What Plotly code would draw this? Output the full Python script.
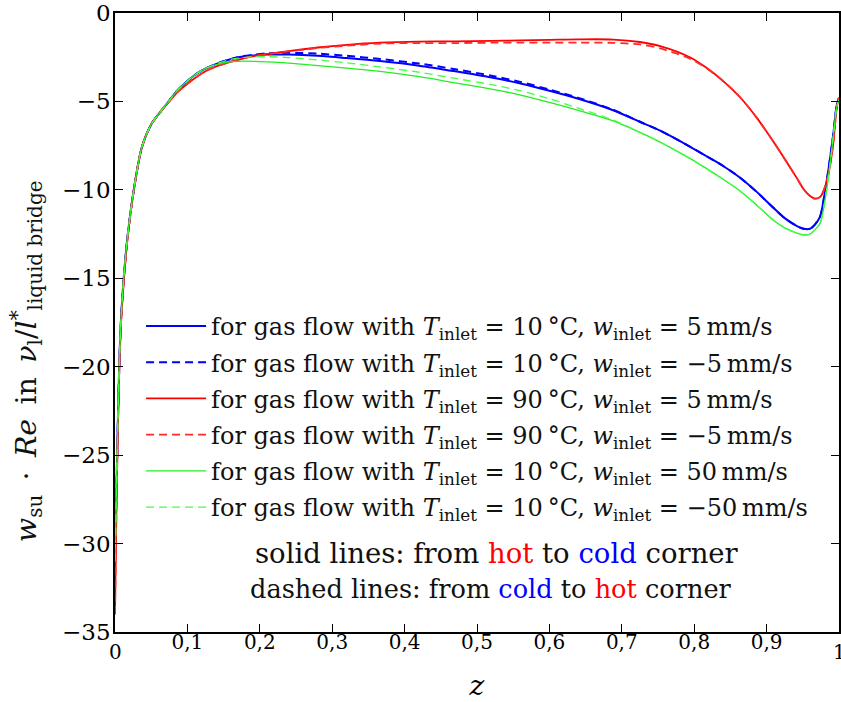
import plotly.graph_objects as go

z = [0, 0.002, 0.004, 0.006, 0.008, 0.012, 0.018, 0.026, 0.037, 0.05, 0.0625, 0.075,
     0.0856, 0.1, 0.113, 0.127, 0.141, 0.156, 0.171, 0.19, 0.21, 0.24, 0.28, 0.32,
     0.366, 0.42, 0.47, 0.52, 0.56, 0.6, 0.64, 0.688, 0.725, 0.753, 0.794, 0.817,
     0.84, 0.863, 0.886, 0.909, 0.925, 0.942, 0.951, 0.96, 0.967, 0.974, 0.981,
     0.986, 0.992, 0.997, 1.0]

start_common = [-31, -27, -23, -19.8, -17.6, -15.0, -12.4, -10.0, -7.6, -6.3, -5.6, -4.95,
                -4.4, -3.85]

blue_solid = start_common + [-3.42, -3.1, -2.86, -2.66, -2.5, -2.4, -2.35, -2.35, -2.42, -2.55,
              -2.72, -2.98, -3.3, -3.65, -3.99, -4.4, -4.85, -5.5, -6.15, -6.65, -7.55, -8.1,
              -8.65, -9.3, -10.1, -11.0, -11.6, -12.05, -12.2, -12.2, -11.95, -11.5, -10.0,
              -8.7, -6.9, -5.2, -4.8]
blue_dashed = start_common + [-3.42, -3.1, -2.86, -2.66, -2.48, -2.37, -2.28, -2.25, -2.3, -2.42,
               -2.6, -2.86, -3.18, -3.55, -3.9, -4.33, -4.8, -5.47, -6.15, -6.65, -7.55, -8.1,
               -8.65, -9.3, -10.1, -11.0, -11.6, -12.05, -12.2, -12.2, -11.95, -11.5, -10.0,
               -8.7, -6.9, -5.2, -4.8]
red_solid = [-34, -28, -23.5, -20, -17.8, -15.2, -12.5, -10.0, -7.6, -6.3, -5.6, -5.0,
             -4.5, -4.0, -3.6, -3.25, -3.0, -2.8, -2.63, -2.45, -2.32, -2.15, -1.95, -1.8,
             -1.68, -1.62, -1.6, -1.58, -1.55, -1.52, -1.49, -1.5, -1.64, -1.87, -2.5, -3.1,
             -3.85, -4.75, -5.9, -7.25, -8.25, -9.35, -9.95, -10.35, -10.5, -10.4, -9.8,
             -9.0, -7.4, -5.3, -4.8]
red_dashed = [-34, -28, -23.5, -20, -17.8, -15.2, -12.5, -10.0, -7.6, -6.3, -5.6, -5.0,
              -4.5, -4.0, -3.6, -3.25, -3.0, -2.8, -2.63, -2.45, -2.33, -2.17, -1.98, -1.85,
              -1.73, -1.7, -1.7, -1.68, -1.68, -1.68, -1.68, -1.69, -1.78, -2.0, -2.58, -3.12,
              -3.85, -4.75, -5.9, -7.25, -8.25, -9.35, -9.95, -10.35, -10.5, -10.4, -9.8,
              -9.0, -7.4, -5.3, -4.8]
green_solid = start_common + [-3.42, -3.1, -2.9, -2.78, -2.73, -2.73, -2.76, -2.83, -2.97, -3.12,
               -3.3, -3.6, -3.95, -4.3, -4.64, -5.05, -5.5, -6.1, -6.75, -7.3, -8.22, -8.8,
               -9.4, -10.05, -10.85, -11.7, -12.15, -12.45, -12.55, -12.5, -12.25, -11.88, -10.5,
               -9.1, -7.0, -5.3, -4.9]
green_dashed = start_common + [-3.42, -3.1, -2.86, -2.66, -2.55, -2.48, -2.47, -2.52, -2.65, -2.82,
                -3.05, -3.35, -3.7, -4.05, -4.4, -4.85, -5.38, -6.05, -6.75, -7.3, -8.22, -8.8,
                -9.4, -10.05, -10.85, -11.7, -12.15, -12.45, -12.55, -12.5, -12.25, -11.88, -10.5,
                -9.1, -7.0, -5.3, -4.9]

x_tickvals = [0.1, 0.2, 0.3, 0.4, 0.5, 0.6, 0.7, 0.8, 0.9]
x_ticktext = ["0,1", "0,2", "0,3", "0,4", "0,5", "0,6", "0,7", "0,8", "0,9"]
x_end_vals = [0, 1]
x_end_text = ["0", "1"]
y_tickvals = [0, -5, -10, -15, -20, -25, -30, -35]
y_ticktext = ["0", "\u22125", "\u221210", "\u221215", "\u221220", "\u221225", "\u221230", "\u221235"]

def lbl(T, w):
    return ("for gas flow with <i>T</i><sub>inlet</sub> = %s\u2009\u00b0C, "
            "<i>w</i><sub>inlet</sub> = %s\u2009mm/s" % (T, w))

DASH = "8px,5px"
series = [
    (blue_solid, "#0000ff", "solid", 2.0, lbl("10", "5")),
    (blue_dashed, "#0000ff", DASH, 2.0, lbl("10", "\u22125")),
    (red_solid, "#ff0000", "solid", 1.8, lbl("90", "5")),
    (red_dashed, "#ff2a2a", DASH, 1.8, lbl("90", "\u22125")),
    (green_solid, "#22ee22", "solid", 1.3, lbl("10", "50")),
    (green_dashed, "#44ff44", DASH, 1.3, lbl("10", "\u221250")),
]

FONT = "DejaVu Serif"
fig = go.Figure()
for i, (y, c, d, w, name) in enumerate(series):
    fig.add_trace(go.Scatter(x=z, y=y, mode="lines", name=name, legendgroup="g%d" % i,
                             hoverinfo="skip",
                             line=dict(color=c, dash=d, width=w, shape="spline", smoothing=0.8)))

annotations = [
    dict(x=0.528, y=0.128, xref="paper", yref="paper", showarrow=False,
         xanchor="center", yanchor="middle",
         text="solid lines: from <span style='color:#ff0000'>hot</span> to <span style='color:#0000ff'>cold</span> corner",
         font=dict(family=FONT, size=27.5, color="#111")),
    dict(x=0.52, y=0.069, xref="paper", yref="paper", showarrow=False,
         xanchor="center", yanchor="middle",
         text="dashed lines: from <span style='color:#0000ff'>cold</span> to <span style='color:#ff0000'>hot</span> corner",
         font=dict(family=FONT, size=25.6, color="#111")),
    dict(x=-0.122, y=0.437, xref="paper", yref="paper", showarrow=False,
         xanchor="center", yanchor="middle", textangle=-90,
         text="<i>w</i><sub>su</sub>\u2002\u00b7\u2002<i>Re</i>\u2002in\u2002<i>\u03bd</i><sub>l</sub>/<i>l</i><sup>*</sup><sub>liquid bridge</sub>",
         font=dict(family=FONT, size=28.5, color="#111")),
]
for v, t in zip(x_end_vals, x_end_text):
    annotations.append(dict(x=v, y=0, xref="x", yref="paper", showarrow=False,
                            xanchor="center", yanchor="top", yshift=-6, text=t,
                            font=dict(family=FONT, size=20, color="black")))

fig.update_layout(
    width=841, height=702,
    margin=dict(l=115, r=2, t=13, b=70),
    paper_bgcolor="white", plot_bgcolor="white",
    font=dict(family=FONT, color="black", size=20),
    showlegend=True,
    hovermode=False,
    legend=dict(x=0.036, y=0.53, xanchor="left", yanchor="top",
                bgcolor="rgba(0,0,0,0)", borderwidth=0,
                font=dict(family=FONT, size=24, color="#111"),
                tracegroupgap=2, itemwidth=60),
    xaxis=dict(range=[0, 1], tickvals=x_tickvals, ticktext=x_ticktext, automargin=False,
               showgrid=False, zeroline=False, showline=True, linecolor="black",
               linewidth=1.5, mirror="ticks", ticks="inside", ticklen=8,
               tickcolor="black", tickwidth=1.2, tickfont=dict(size=20),
               ticklabeloverflow="allow", ticklabelstandoff=-9,
               title=dict(text="<i>z</i>", font=dict(size=28), standoff=38)),
    yaxis=dict(range=[-35, 0], tickvals=y_tickvals, ticktext=y_ticktext, automargin=False,
               showgrid=False, zeroline=False, showline=True, linecolor="black",
               linewidth=1.5, mirror="ticks", ticks="inside", ticklen=8,
               tickcolor="black", tickwidth=1.2, tickfont=dict(size=23),
               ticklabeloverflow="allow", ticklabelstandoff=-2),
    annotations=annotations,
)
fig.write_html("out.html", config={"displayModeBar": False},
               post_script="document.body.style.margin='0px';document.body.style.overflow='hidden';")
